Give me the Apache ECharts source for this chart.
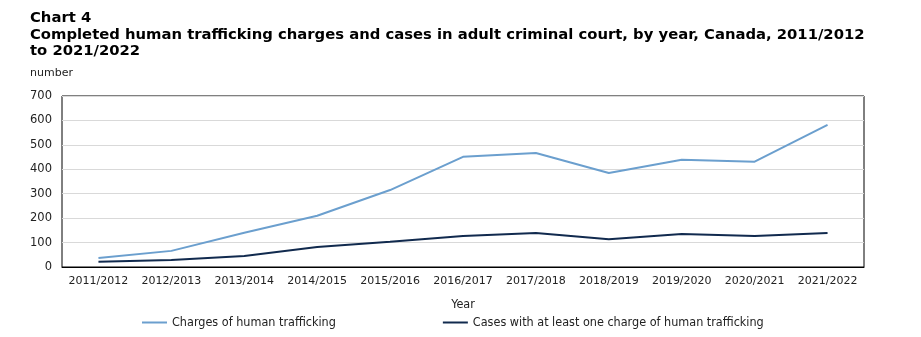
<!DOCTYPE html>
<html><head><meta charset="utf-8">
<script src="https://cdn.jsdelivr.net/npm/echarts@6/dist/echarts.min.js"></script>
<style>html,body{margin:0;padding:0;background:#fff}#c{width:921px;height:337px}</style>
</head><body><div id="c"></div>
<script>
const categories = ['2011/2012','2012/2013','2013/2014','2014/2015','2015/2016','2016/2017','2017/2018','2018/2019','2019/2020','2020/2021','2021/2022'];
const charges = [37, 66, 140, 210, 315, 451, 467, 385, 439, 431, 582];
const cases = [21, 29, 45, 82, 103, 127, 139, 114, 135, 127, 139];
const yTicks = [0,100,200,300,400,500,600,700];
const chart = echarts.init(document.getElementById('c'));
const axisFont = 'DejaVu Sans';
const narrow = 'DejaVu Sans Condensed';
chart.setOption({
  animation:false,
  title:{text:'Chart 4\nCompleted human trafficking charges and cases in adult criminal court, by year, Canada, 2011/2012\nto 2021/2022',
    left:30, top:10, padding:0, textStyle:{fontFamily:'DejaVu Sans', fontWeight:'bold', fontSize:14.8, lineHeight:16.5, color:'#000'}},
  graphic:[{type:'text', left:30, top:68, style:{text:'number', font:'11px DejaVu Sans', fill:'#222'}}],
  legend:{left:142, top:316, padding:0, itemWidth:25, itemHeight:2, icon:'rect', itemGap:107,
    textStyle:{fontFamily:narrow, fontSize:12.5, color:'#222'},
    data:['Charges of human trafficking','Cases with at least one charge of human trafficking']},
  grid:{left:62, right:57, top:96, bottom:70, show:true, borderColor:'#000', borderWidth:1},
  xAxis:{type:'category', data:categories, boundaryGap:true, name:'Year', nameLocation:'middle', nameGap:31,
    nameTextStyle:{fontFamily:narrow, fontSize:12.5, color:'#222'},
    axisLine:{lineStyle:{color:'#000'}}, axisTick:{show:false},
    axisLabel:{fontFamily:axisFont, fontSize:11, color:'#222', margin:9, interval:0}},
  yAxis:{type:'value', min:yTicks[0], max:yTicks[yTicks.length-1], interval:100,
    axisLine:{show:false}, axisTick:{show:false},
    splitLine:{lineStyle:{color:'#d9d9d9'}},
    axisLabel:{fontFamily:axisFont, fontSize:11.5, color:'#222', margin:10}},
  series:[
    {name:'Charges of human trafficking', type:'line', data:charges, symbol:'none', lineStyle:{width:2, color:'#6b9fce'}, itemStyle:{color:'#6b9fce'}},
    {name:'Cases with at least one charge of human trafficking', type:'line', data:cases, symbol:'none', lineStyle:{width:2, color:'#112a4e'}, itemStyle:{color:'#112a4e'}}
  ]
});
</script></body></html>
